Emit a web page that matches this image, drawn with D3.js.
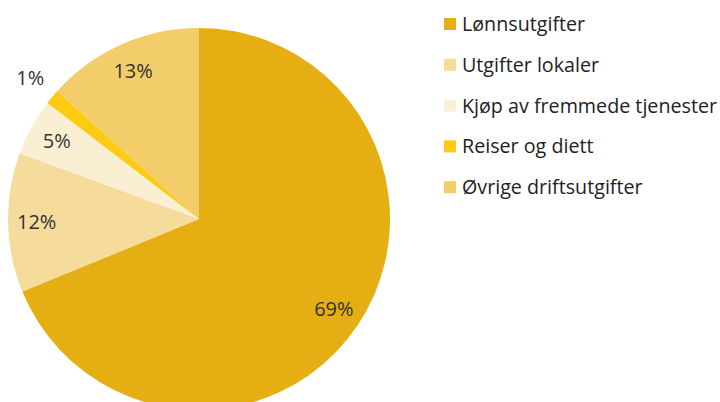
<!DOCTYPE html>
<html>
<head>
<meta charset="utf-8">
<script src="https://cdn.jsdelivr.net/npm/d3@7"></script>
<style>
  body { margin: 0; background: #fff; }
  text { font-family: "Open Sans", sans-serif; }
</style>
</head>
<body>
<div id="chart"></div>
<script>
// cost categories and their share (percent)
const categories = ["Lønnsutgifter", "Utgifter lokaler", "Kjøp av fremmede tjenester", "Reiser og diett", "Øvrige driftsutgifter"];
const values = [68.8, 11.8, 4.8, 1.3, 13.3];
const colors = ["#e5af14", "#f5dc9c", "#faefd2", "#fccb12", "#f2cd6a"];

const width = 720, height = 402;
const cx = 199, cy = 219, radius = 191;

let svg = d3.select("#chart")
    .append("svg")
    .attr("width", width)
    .attr("height", height);

let data = categories.map((c, i) => ({name: c, value: values[i], color: colors[i]}));

let pie = d3.pie()
    .sort(null)
    .value(d => d.value);

let arc = d3.arc().innerRadius(0).outerRadius(radius);
let labelArc = d3.arc().innerRadius(radius * 0.85).outerRadius(radius * 0.85);
let outerArc = d3.arc().innerRadius(radius * 1.15).outerRadius(radius * 1.15);

let g = svg.append("g")
    .attr("transform", `translate(${cx},${cy})`);

let slices = pie(data);

g.selectAll("path")
    .data(slices)
    .join("path")
    .attr("d", arc)
    .attr("fill", d => d.data.color);

// small slices get their label outside the pie
g.selectAll(".lbl")
    .data(slices)
    .join("text")
    .attr("class", "lbl")
    .attr("transform", d => `translate(${(d.data.value < 3 ? outerArc : labelArc).centroid(d)})`)
    .attr("text-anchor", "middle")
    .attr("dy", "0.35em")
    .attr("font-size", 20)
    .attr("fill", "#333")
    .text(d => Math.round(d.data.value) + "%");

// legend
let legend = svg.append("g")
    .attr("transform", "translate(444,24)");

let item = legend.selectAll("g")
    .data(data)
    .join("g")
    .attr("transform", (d, i) => `translate(0,${i * 40.8})`);

item.append("rect")
    .attr("x", 0)
    .attr("y", -6)
    .attr("width", 12)
    .attr("height", 12)
    .attr("fill", d => d.color);

item.append("text")
    .attr("x", 18)
    .attr("dy", "0.35em")
    .attr("font-size", 19.7)
    .attr("fill", "#222")
    .text(d => d.name);
</script>
</body>
</html>
